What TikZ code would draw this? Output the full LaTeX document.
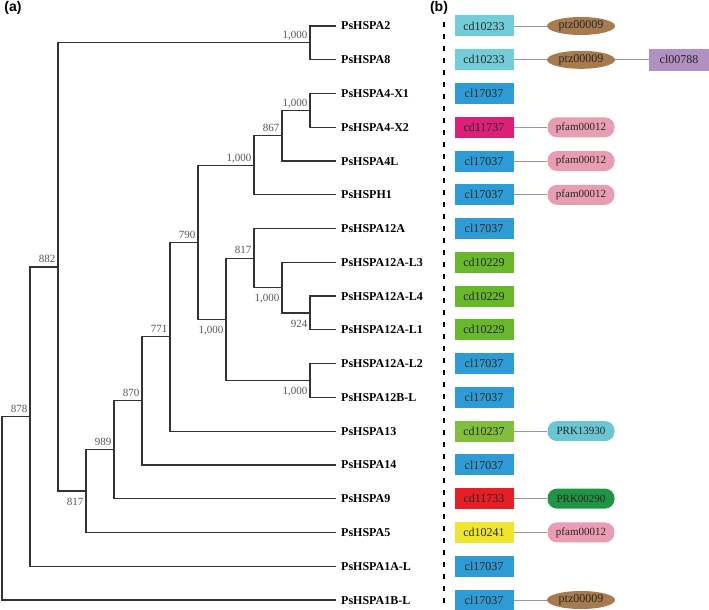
\documentclass[tikz,border=0pt]{standalone}
\usepackage{fontspec}
\setmainfont{Liberation Serif}
\newfontfamily\panelfont{Liberation Sans}
\usetikzlibrary{shapes.geometric}
\definecolor{cTeal}{HTML}{72CDD9}
\definecolor{cBlue}{HTML}{2D9CD6}
\definecolor{cMag}{HTML}{DE1F78}
\definecolor{cGreen}{HTML}{67B82A}
\definecolor{cLGreen}{HTML}{82BE3E}
\definecolor{cRed}{HTML}{E61E25}
\definecolor{cYel}{HTML}{F0E52D}
\definecolor{cBrown}{HTML}{A87B4E}
\definecolor{cPink}{HTML}{E89DB2}
\definecolor{cPRK}{HTML}{6CC6D2}
\definecolor{cDGreen}{HTML}{1F9447}
\definecolor{cPurp}{HTML}{B190C4}
\definecolor{branchc}{HTML}{333333}
\definecolor{bootc}{HTML}{555555}
\begin{document}
\begin{tikzpicture}[x=1pt,y=-1pt,
  br/.style={draw=branchc,line width=1.2pt},
  leaf/.style={anchor=west,inner xsep=5pt,inner ysep=0pt,font=\fontsize{12}{14}\selectfont\bfseries,text height=8pt,text depth=0pt},
  bsa/.style={anchor=south east,inner xsep=2.5pt,inner ysep=1.5pt,yshift=2.5pt,text=bootc,font=\fontsize{11}{13}\selectfont,text height=7.4pt,text depth=0pt},
  bsb/.style={anchor=north east,inner xsep=2.5pt,inner ysep=1.5pt,yshift=-5pt,text=bootc,font=\fontsize{11}{13}\selectfont,text height=7.4pt,text depth=0pt},
  dbox/.style={rectangle,minimum width=59pt,minimum height=21pt,inner sep=0pt,font=\fontsize{12}{14}\selectfont,text=black!85},
  ell/.style={ellipse,fill=cBrown,minimum width=68pt,minimum height=18pt,inner sep=0pt,font=\fontsize{12}{14}\selectfont,text=black!85},
  pill/.style={rectangle,rounded corners=9.5pt,minimum width=67pt,minimum height=20pt,inner sep=0pt,font=\fontsize{11}{13}\selectfont,text=black!85},
  conn/.style={draw=black!40,line width=0.9pt},
  panel/.style={font=\panelfont\fontsize{14}{16}\selectfont\bfseries}
]
\useasboundingbox (0,0) rectangle (709,610);

% panel labels
\node[panel] (pa) at (13,8) {(a)};
\node[panel] (pb) at (439,8) {(b)};

% leaves
\node[leaf] (l0) at (336,26.0) {PsHSPA2};
\node[leaf] (l1) at (336,59.8) {PsHSPA8};
\node[leaf] (l2) at (336,93.5) {PsHSPA4-X1};
\node[leaf] (l3) at (336,127.3) {PsHSPA4-X2};
\node[leaf] (l4) at (336,161.0) {PsHSPA4L};
\node[leaf] (l5) at (336,194.8) {PsHSPH1};
\node[leaf] (l6) at (336,228.6) {PsHSPA12A};
\node[leaf] (l7) at (336,262.3) {PsHSPA12A-L3};
\node[leaf] (l8) at (336,296.0) {PsHSPA12A-L4};
\node[leaf] (l9) at (336,329.8) {PsHSPA12A-L1};
\node[leaf] (l10) at (336,363.6) {PsHSPA12A-L2};
\node[leaf] (l11) at (336,397.4) {PsHSPA12B-L};
\node[leaf] (l12) at (336,431.1) {PsHSPA13};
\node[leaf] (l13) at (336,464.9) {PsHSPA14};
\node[leaf] (l14) at (336,498.6) {PsHSPA9};
\node[leaf] (l15) at (336,532.4) {PsHSPA5};
\node[leaf] (l16) at (336,566.2) {PsHSPA1A-L};
\node[leaf] (l17) at (336,600.0) {PsHSPA1B-L};

% internal nodes
\coordinate (root) at (2,508.1);
\coordinate (n878) at (30,416.5);
\coordinate (n882) at (58,267.0);
\coordinate (ntop) at (310,42.9);
\coordinate (n817b) at (86,491.0);
\coordinate (n989) at (114,449.7);
\coordinate (n870) at (142,400.8);
\coordinate (n771) at (170,336.7);
\coordinate (n790) at (198,242.3);
\coordinate (nA) at (254,165.2);
\coordinate (n867) at (282,135.7);
\coordinate (nX) at (310,110.4);
\coordinate (nB) at (226,319.3);
\coordinate (n817) at (254,258.1);
\coordinate (nC) at (282,287.6);
\coordinate (n924) at (310,312.9);
\coordinate (nL) at (310,380.5);

% branches
\draw[br] (root) |- (n878);
\draw[br] (root) |- (l17.west);
\draw[br] (n878) |- (n882);
\draw[br] (n878) |- (l16.west);
\draw[br] (n882) |- (ntop);
\draw[br] (n882) |- (n817b);
\draw[br] (ntop) |- (l0.west);
\draw[br] (ntop) |- (l1.west);
\draw[br] (n817b) |- (n989);
\draw[br] (n817b) |- (l15.west);
\draw[br] (n989) |- (n870);
\draw[br] (n989) |- (l14.west);
\draw[br] (n870) |- (n771);
\draw[br] (n870) |- (l13.west);
\draw[br] (n771) |- (n790);
\draw[br] (n771) |- (l12.west);
\draw[br] (n790) |- (nA);
\draw[br] (n790) |- (nB);
\draw[br] (nA) |- (n867);
\draw[br] (nA) |- (l5.west);
\draw[br] (n867) |- (nX);
\draw[br] (n867) |- (l4.west);
\draw[br] (nX) |- (l2.west);
\draw[br] (nX) |- (l3.west);
\draw[br] (nB) |- (n817);
\draw[br] (nB) |- (nL);
\draw[br] (n817) |- (l6.west);
\draw[br] (n817) |- (nC);
\draw[br] (nC) |- (l7.west);
\draw[br] (nC) |- (n924);
\draw[br] (n924) |- (l8.west);
\draw[br] (n924) |- (l9.west);
\draw[br] (nL) |- (l10.west);
\draw[br] (nL) |- (l11.west);

% bootstrap values
\node[bsa] (b1) at (ntop) {1,000};
\node[bsa] (b2) at (nX) {1,000};
\node[bsa] (b3) at (n867) {867};
\node[bsa] (b4) at (nA) {1,000};
\node[bsa] (b5) at (n790) {790};
\node[bsa] (b6) at (n817) {817};
\node[bsa] (b7) at (n771) {771};
\node[bsa] (b8) at (n870) {870};
\node[bsa] (b9) at (n882) {882};
\node[bsa] (b10) at (n878) {878};
\node[bsa] (b11) at (n989) {989};
\node[bsb] (b12) at (nC) {1,000};
\node[bsb] (b13) at (n924) {924};
\node[bsb] (b14) at (nB) {1,000};
\node[bsb] (b15) at (nL) {1,000};
\node[bsb] (b16) at (n817b) {817};

% divider
\coordinate (dtop) at (444,22);
\coordinate (dbot) at (444,610);
\draw[line width=1.8pt,dash pattern=on 5pt off 7pt] (dtop) -- (dbot);

% domain boxes
\node[dbox,fill=cTeal] (d0) at (484,26.0) {cd10233};
\node[dbox,fill=cTeal] (d1) at (484,59.8) {cd10233};
\node[dbox,fill=cBlue] (d2) at (484,93.5) {cl17037};
\node[dbox,fill=cMag] (d3) at (484,127.3) {cd11737};
\node[dbox,fill=cBlue] (d4) at (484,161.0) {cl17037};
\node[dbox,fill=cBlue] (d5) at (484,194.8) {cl17037};
\node[dbox,fill=cBlue] (d6) at (484,228.6) {cl17037};
\node[dbox,fill=cGreen] (d7) at (484,262.3) {cd10229};
\node[dbox,fill=cGreen] (d8) at (484,296.0) {cd10229};
\node[dbox,fill=cGreen] (d9) at (484,329.8) {cd10229};
\node[dbox,fill=cBlue] (d10) at (484,363.6) {cl17037};
\node[dbox,fill=cBlue] (d11) at (484,397.4) {cl17037};
\node[dbox,fill=cLGreen] (d12) at (484,431.1) {cd10237};
\node[dbox,fill=cBlue] (d13) at (484,464.9) {cl17037};
\node[dbox,fill=cRed] (d14) at (484,498.6) {cd11733};
\node[dbox,fill=cYel] (d15) at (484,532.4) {cd10241};
\node[dbox,fill=cBlue] (d16) at (484,566.2) {cl17037};
\node[dbox,fill=cBlue] (d17) at (484,600.0) {cl17037};

% second domains
\node[ell] (e0) at (581,26.0) {ptz00009};
\node[ell] (e1) at (581,59.8) {ptz00009};
\node[pill,fill=cPink] (e3) at (581,127.3) {pfam00012};
\node[pill,fill=cPink] (e4) at (581,161.0) {pfam00012};
\node[pill,fill=cPink] (e5) at (581,194.8) {pfam00012};
\node[pill,fill=cPRK] (e12) at (581,431.1) {PRK13930};
\node[pill,fill=cDGreen] (e14) at (581,498.6) {PRK00290};
\node[pill,fill=cPink] (e15) at (581,532.4) {pfam00012};
\node[ell] (e17) at (581,600.0) {ptz00009};
\node[dbox,fill=cPurp,minimum width=60pt,minimum height=22pt] (c1) at (679,59.8) {cl00788};

% connectors
\draw[conn] (d0) -- (e0);
\draw[conn] (d1) -- (e1);
\draw[conn] (e1) -- (c1);
\draw[conn] (d3) -- (e3);
\draw[conn] (d4) -- (e4);
\draw[conn] (d5) -- (e5);
\draw[conn] (d12) -- (e12);
\draw[conn] (d14) -- (e14);
\draw[conn] (d15) -- (e15);
\draw[conn] (d17) -- (e17);
\end{tikzpicture}
\end{document}
